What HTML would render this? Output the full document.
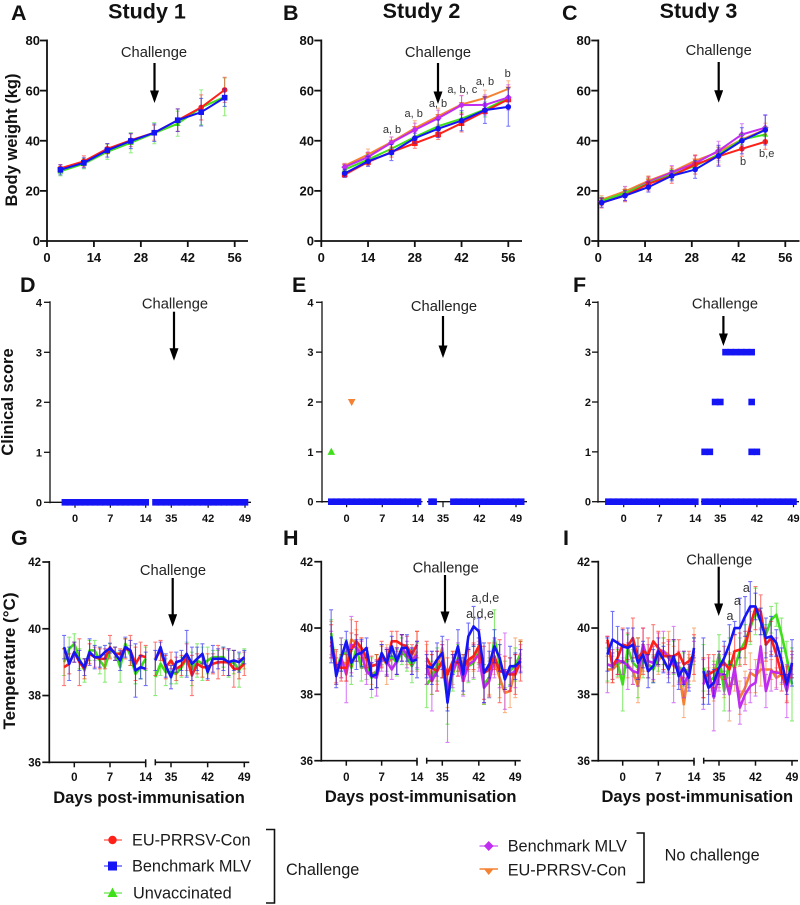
<!DOCTYPE html>
<html lang="en">
<head>
<meta charset="utf-8">
<title>Study charts</title>
<style>
html,body{margin:0;padding:0;background:#fff}
svg{display:block}
text{font-family:"Liberation Sans",sans-serif;fill:#111}
.b{font-weight:bold}
.ch{font-size:14.7px;text-anchor:middle;fill:#222}
.ttl{font-size:21.5px;font-weight:bold;text-anchor:middle}
.pl{font-size:21.5px;font-weight:bold}
.ax{font-size:16.5px;font-weight:bold;text-anchor:middle}
.an{font-size:11px;text-anchor:middle;fill:#333}
.an2{font-size:12.5px;text-anchor:middle;fill:#333}
.lg{font-size:16.3px;fill:#1a1a1a}
</style>
</head>
<body>
<svg id="fig" xmlns="http://www.w3.org/2000/svg" width="800" height="905" viewBox="0 0 800 905">
<rect width="800" height="905" fill="#fff"/>
<defs>
<marker id="ah" markerWidth="12.5" markerHeight="9" refX="9.5" refY="4.5" orient="auto" markerUnits="userSpaceOnUse" viewBox="0 0 12.5 9"><path d="M0 0L12.5 4.5L0 9Z" fill="#000"/></marker>
</defs>

<text class="ttl" x="147" y="18.5">Study 1</text>
<text class="ttl" x="421.5" y="18">Study 2</text>
<text class="ttl" x="698.5" y="18">Study 3</text>

<text class="pl" x="11" y="20">A</text>
<text class="pl" x="283" y="20">B</text>
<text class="pl" x="562" y="20">C</text>
<text class="pl" x="20" y="292">D</text>
<text class="pl" x="292" y="292">E</text>
<text class="pl" x="573" y="292">F</text>
<text class="pl" x="11" y="545">G</text>
<text class="pl" x="283" y="545">H</text>
<text class="pl" x="563" y="545">I</text>

<text class="ax" transform="translate(17,140) rotate(-90)">Body weight (kg)</text>
<text class="ax" transform="translate(13,402) rotate(-90)">Clinical score</text>
<text class="ax" transform="translate(15,661) rotate(-90)" textLength="137" lengthAdjust="spacingAndGlyphs">Temperature (°C)</text>
<text class="ax" x="149" y="803">Days post-immunisation</text>
<text class="ax" x="420.7" y="802">Days post-immunisation</text>
<text class="ax" x="697.3" y="802">Days post-immunisation</text>

<g id="charts"></g>

<g stroke="#000" stroke-width="2.2" fill="none">
<line x1="154.5" y1="63" x2="154.5" y2="100" marker-end="url(#ah)"/>
<line x1="438" y1="63" x2="438" y2="101" marker-end="url(#ah)"/>
<line x1="718.7" y1="62" x2="718.7" y2="99.7" marker-end="url(#ah)"/>
<line x1="174" y1="311.7" x2="174" y2="357.7" marker-end="url(#ah)"/>
<line x1="443" y1="316" x2="443" y2="355" marker-end="url(#ah)"/>
<line x1="723.4" y1="316" x2="723.4" y2="343" marker-end="url(#ah)"/>
<line x1="172.7" y1="578" x2="172.7" y2="623.7" marker-end="url(#ah)"/>
<line x1="445" y1="575" x2="445" y2="621" marker-end="url(#ah)"/>
<line x1="718.7" y1="566.7" x2="718.7" y2="613" marker-end="url(#ah)"/>
</g>
<text class="ch" x="154" y="57">Challenge</text>
<text class="ch" x="438" y="57">Challenge</text>
<text class="ch" x="718.7" y="55">Challenge</text>
<text class="ch" x="175" y="308.3">Challenge</text>
<text class="ch" x="444" y="311">Challenge</text>
<text class="ch" x="725" y="308.3">Challenge</text>
<text class="ch" x="173" y="575">Challenge</text>
<text class="ch" x="445.7" y="572.7">Challenge</text>
<text class="ch" x="719.3" y="564.7">Challenge</text>

<g>
<text class="an" x="392" y="133">a, b</text>
<text class="an" x="413.7" y="117">a, b</text>
<text class="an" x="438" y="107">a, b</text>
<text class="an" x="462.3" y="93">a, b, c</text>
<text class="an" x="485" y="85">a, b</text>
<text class="an" x="507.7" y="77">b</text>
<text class="an" x="743" y="165">b</text>
<text class="an" x="766.7" y="157">b,e</text>
<text class="an2" x="485.3" y="602">a,d,e</text>
<text class="an2" x="480" y="618">a,d,e</text>
<text class="an2" x="730" y="620">a</text>
<text class="an2" x="737.3" y="605">a</text>
<text class="an2" x="746.3" y="592">a</text>
</g>

<g>
<g>
<line x1="104" x2="122" y1="840" y2="840" stroke="#ff2a20" stroke-width="2" opacity=".5"/>
<circle cx="112.5" cy="840" r="4.2" fill="#ff2018"/>
<text class="lg" x="132" y="845.5">EU-PRRSV-Con</text>
</g>
<g>
<line x1="104" x2="122" y1="866" y2="866" stroke="#1a1aff" stroke-width="2" opacity=".5"/>
<rect x="108" y="861.5" width="9" height="9" fill="#1414f5"/>
<text class="lg" x="132" y="871.5">Benchmark MLV</text>
</g>
<g>
<line x1="104" x2="122" y1="893" y2="893" stroke="#40e020" stroke-width="2" opacity=".5"/>
<path d="M112.5 887.5L117.5 897H107.5Z" fill="#3fe01a"/>
<text class="lg" x="133" y="898.5">Unvaccinated</text>
</g>
<g>
<line x1="479.5" x2="498" y1="846" y2="846" stroke="#c030f0" stroke-width="2" opacity=".5"/>
<path d="M488.7 841L493.5 846L488.7 851L484 846Z" fill="#c02cf0"/>
<text class="lg" x="507.7" y="851.5">Benchmark MLV</text>
</g>
<g>
<line x1="479.5" x2="498" y1="869" y2="869" stroke="#f58233" stroke-width="1.5"/>
<path d="M484 869H493.5L488.7 875Z" fill="#f58233"/>
<text class="lg" x="507.7" y="875.5">EU-PRRSV-Con</text>
</g>
<path d="M266 829.5H274.5V903H266" fill="none" stroke="#111" stroke-width="1.6"/>
<text class="lg" x="286" y="875">Challenge</text>
<path d="M636.5 833H644V882.5H636.5" fill="none" stroke="#111" stroke-width="1.6"/>
<text class="lg" x="664.6" y="860.7">No challenge</text>
</g>
</svg>

<script>
/* ---------- Tick labels ---------- */
const weightTicks=[0,20,40,60,80];
const weightDayTicks=[0,14,28,42,56];
const clinicalTicks=[0,1,2,3,4];
const tempTicks=[36,38,40,42];
const brokenDayTicks=[0,7,14,35,42,49];

/* ---------- Body weight ---------- */
const daysA=[4,11,18,25,32,39,46,53];
const weightA_green=[27.8,30.8,35.6,39.2,43,46.8,53.3,57.5];
const weightA_greenErr=[1.8,2,3,4,4.2,5,7,7.5];
const weightA_red=[29,31.8,36.8,40.2,43.2,48.2,53.3,60.3];
const weightA_redErr=[1.5,2.2,2,2.5,3,4.5,5,5];
const weightA_blue=[28.4,31.2,36.2,39.9,43.2,48.2,51.4,57.2];
const weightA_blueErr=[2,2,2.7,3,3.5,4.5,5.5,3.5];

const daysB=[7,14,21,28,35,42,49,56];
const weightB_orange=[30,34.5,39.5,45,49.8,54.5,57,60.7];
const weightB_orangeErr=[1,2.2,2,3,3.2,3.6,3.2,3.2];
const weightB_purple=[29.5,33.5,39.2,44.3,49,54.2,54.3,57.3];
const weightB_purpleErr=[1.2,2,2.3,2.7,3.2,3.8,4,5];
const weightB_green=[28.5,32.5,36.8,41.5,45.8,48.8,52.5,57];
const weightB_greenErr=[1.6,2,2.5,2.5,2.5,2.5,3,4];
const weightB_red=[26.5,31.5,35.5,39,42.5,47,51.8,56.5];
const weightB_redErr=[1,1.5,2,2,2,3.5,1,1];
const weightB_blue=[27,31.8,35.3,41,44.8,48,52.2,53.5];
const weightB_blueErr=[1.6,2,3.2,2,3.5,4,5.3,7.7];

const daysC=[1,8,15,22,29,36,43,50];
const weightC_orange=[16.5,19.8,24,27.5,32,35.5,40.5,44.5];
const weightC_orangeErr=[1.6,1.8,2,2.2,2.3,2.5,2.5,2.5];
const weightC_purple=[15.8,19,23.5,27.3,31,36,42.5,45.2];
const weightC_purpleErr=[1.5,2.8,2,2.8,3,3.8,4.3,5];
const weightC_green=[16,19.2,23,26.5,30,34.5,40.5,42.5];
const weightC_greenErr=[1.5,1.5,2,2,2,3,2,3];
const weightC_red=[15.2,18.2,22.8,26,30.5,33.8,36.8,39.6];
const weightC_redErr=[2,2.5,2.8,3,3.8,3.5,3,3];
const weightC_blue=[15.3,18.1,21.5,26,28.5,34,40,44.3];
const weightC_blueErr=[1.8,2,2,2,3.5,4.2,5.2,6];

/* ---------- Clinical score (blue blocks + single animals) ---------- */
const clinicalD_days=[-2,-1,0,1,2,3,4,5,6,7,8,9,10,11,12,13,14,32,33,34,35,36,37,38,39,40,41,42,43,44,45,46,47,48,49];
const clinicalD_scores=[0,0,0,0,0,0,0,0,0,0,0,0,0,0,0,0,0,0,0,0,0,0,0,0,0,0,0,0,0,0,0,0,0,0,0];
const clinicalE_days=[-3,-2,-1,0,1,2,3,4,5,6,7,8,9,10,11,12,13,14,32.8,33.2,37,38,39,40,41,42,43,44,45,46,47,48,49,50];
const clinicalE_scores=[0,0,0,0,0,0,0,0,0,0,0,0,0,0,0,0,0,0,0,0,0,0,0,0,0,0,0,0,0,0,0,0,0,0];
const clinicalF_days=[-3,-2,-1,0,1,2,3,4,5,6,7,8,9,10,11,12,13,14,32,33,34,35,36,37,38,39,40,41,42,43,44,45,46,47,48,49,36,37,38,39,40,41,34,35,41,32,33,41,42];
const clinicalF_scores=[0,0,0,0,0,0,0,0,0,0,0,0,0,0,0,0,0,0,0,0,0,0,0,0,0,0,0,0,0,0,0,0,0,0,0,0,3,3,3,3,3,3,2,2,2,1,1,1,1];
const clinicalE_greenDays=[-3];
const clinicalE_greenScores=[1];
const clinicalE_orangeDays=[1];
const clinicalE_orangeScores=[2];

/* ---------- Temperature: study 1 ---------- */
const daysG=[-2,-1,0,1,2,3,4,5,6,7,8,9,10,11,12,13,14,32,33,34,35,36,37,38,39,40,41,42,43,44,45,46,47,48,49];
const tempG_green=[39,39.4,39.55,39.1,38.75,39.35,39.35,39.05,38.85,39.35,39.3,38.85,39.55,39.2,38.65,38.85,39.1,38.55,38.95,38.7,38.7,38.65,38.85,39.1,38.8,39.05,38.95,39.05,39.15,39.15,39.15,38.95,39,38.75,39.1];
const tempG_greenErr=[.4,.35,.3,.3,.35,.3,.3,.4,.45,.2,.15,.45,.15,.3,.3,.35,.35,.55,.35,.4,.35,.3,.3,.5,.5,.5,.5,.4,.2,.2,.3,.4,.35,.5,.3];
const tempG_red=[38.85,38.95,39.3,39,38.8,39.25,39.15,39.1,39.1,39.45,39.25,39.25,39.4,39.35,38.95,39.2,39.15,39.1,39.35,38.85,39.05,38.8,38.9,39.15,38.6,38.95,38.85,38.85,38.95,39,39,39,38.8,38.8,38.95];
const tempG_redErr=[.55,.3,.3,.7,.3,.3,.3,.3,.3,.35,.2,.15,.3,.45,.5,.4,.35,.5,.3,.35,.25,.35,.3,.4,.6,.3,.3,.4,.3,.5,.4,.4,.55,.3,.35];
const tempG_blue=[39.45,38.95,39.3,39.05,38.85,39.3,39.15,39.15,39.3,39.42,39.25,39.05,39.45,39.35,38.75,38.85,38.8,39.05,39.45,38.9,38.55,39,39.05,39.25,38.95,39.1,39.25,38.7,39.1,39.1,39.1,39,39.05,39,39.15];
const tempG_blueErr=[.35,.5,.3,.3,.25,.4,.35,.3,.2,.15,.2,.3,.3,.3,.8,.35,.5,.3,.15,.35,.35,.3,.3,.7,.5,.35,.3,.2,.4,.3,.35,.4,.3,.3,.2];

/* ---------- Temperature: study 2 ---------- */
const daysH=[-3,-2,-1,0,1,2,3,4,5,6,7,8,9,10,11,12,13,14,32,33,34,35,36,37,38,39,40,41,42,43,44,45,46,47,48,49,50];
const tempH_orange=[39.7,38.8,39,38.9,39.65,39.55,39.3,39,38.6,38.7,39.15,38.9,39.1,39,39.4,39.2,39,39.3,38.9,38.6,38.8,39.4,38.1,38.8,39,38.5,39,39.1,39.2,38.3,38.5,39,38.5,38.05,38.1,38.8,39.25];
const tempH_orangeErr=[.5,.5,.5,.5,.6,.4,.4,.4,.3,.5,.3,.6,.3,.4,.4,.3,.3,.6,.6,.6,.5,.2,.5,.5,.3,.5,.3,.4,.4,.6,.5,.4,.6,.6,.5,.9,.4];
const tempH_green=[39.85,38.7,39.2,39.25,38.8,39.4,38.8,38.85,38.5,38.7,39.2,39,39.15,38.95,39.3,39.1,38.85,39.15,38.3,38.5,38.9,38.9,37.85,38.6,39.1,38.6,38.85,38.95,39.3,38.3,38.5,39.7,38.9,38.6,38.7,38.9,39.2];
const tempH_greenErr=[.4,.4,.5,.4,.5,.4,.4,.4,.6,.5,.3,.3,.3,.4,.4,.4,.5,.4,.7,.5,.5,.4,.75,.5,.4,.6,.5,.5,.4,.6,.6,.85,.6,.4,.4,.5,.4];
const tempH_purple=[39.5,38.7,39.1,38.6,39.5,39.4,39.2,38.7,38.55,38.5,39.1,39,38.75,39,39.4,39.2,39,39.2,38.8,38.4,38.7,39,38.1,38.7,39.05,38.4,38.9,39,39.2,38.2,38.4,39.1,38.7,38.7,38.6,38.7,39.1];
const tempH_purpleErr=[.4,.4,.6,.85,.85,.4,.4,.4,.4,.55,.4,.4,.3,.4,.4,.4,.4,.4,.5,.9,.6,.5,1.55,.5,.5,.45,.5,.5,.5,.45,.5,.6,.5,1.15,.5,.5,.4];
const tempH_red=[39.6,38.85,38.8,38.8,39.35,39.6,39.4,39.1,38.85,38.9,39.2,38.95,39.6,39.6,39.5,39.45,39.2,39.5,39.1,38.8,38.7,39,38.6,39,38.95,38.8,39.05,39.15,39.45,38.65,38.75,39.15,38.7,38.65,38.6,38.6,39];
const tempH_redErr=[.5,.5,.4,.4,.5,.6,.3,.3,.3,.3,.4,.4,.3,.3,.3,.3,.3,.4,.5,.4,.6,.5,.5,.3,.4,.4,.3,.4,.5,.8,.8,.4,.95,.5,.5,.6,.6];
const tempH_blue=[39.75,38.55,39.1,39.6,38.95,39.2,39.25,39.4,38.55,38.6,39.25,38.95,39.45,39,39.4,39.4,39,39.05,38.85,38.8,39.05,39.25,37.75,38.9,39.45,38.6,39.75,40.05,39.9,38.65,38.9,39.45,39.1,38.45,38.85,38.85,39];
const tempH_blueErr=[.8,.35,.4,.3,.4,.45,.4,.3,.4,.4,.25,.4,.3,.4,.4,.4,.4,.55,.35,.5,.5,.5,.25,.3,.5,.5,.4,.6,.4,.9,.4,.5,.4,.3,.6,.4,.35];

/* ---------- Temperature: study 3 ---------- */
const daysI=[-3,-2,-1,0,1,2,3,4,5,6,7,8,9,10,11,12,13,14,32,33,34,35,36,37,38,39,40,41,42,43,44,45,46,47,48,49];
const tempI_orange=[38.75,38.75,38.9,39,38.9,38.7,38.25,39.1,38.9,38.8,39,39.3,39.2,38.85,38.75,37.7,38.8,39.2,38.5,38.4,38.3,38.7,38.3,38.2,38.6,37.9,38.2,38.65,38.55,38.75,38.75,38.75,38.5,38.6,38.3,38.8];
const tempI_orangeErr=[.4,.4,.4,.5,.4,.4,.5,.4,.4,.4,.4,.4,.7,.6,.4,.4,.4,.8,.6,.3,.5,.5,.4,1,.5,.5,.5,.6,.5,.5,.5,.3,.3,.3,.5,.3];
const tempI_green=[38.9,38.85,38.95,38.3,39.4,38.95,38.8,39,38.9,38.75,39.1,39.3,39.1,39.1,38.8,38.75,38.7,39.3,38.8,38.4,38.5,39.2,38.1,39,38.8,39.3,39.6,40,40.5,40.2,39.8,40.25,40.4,39.8,39.1,38.3];
const tempI_greenErr=[.5,.4,.4,.8,.4,.4,.9,.5,.4,.4,.4,.4,.4,.5,.4,.5,.4,.4,.7,.4,.5,.6,.6,.7,.5,.4,.5,.5,.7,.4,.3,.4,.35,.5,.5,1.1];
const tempI_purple=[38.9,38.85,39,39,38.85,38.7,38.65,39.5,39,38.95,39.35,39.3,39.1,38.9,38.8,38.3,38.6,39.3,38.3,38.7,37.9,38.6,38.6,38,38.8,37.6,38,38.25,38.35,39.45,38.1,38.7,38.65,38.65,38.1,38.9];
const tempI_purpleErr=[.85,.4,.4,.4,.7,.4,.4,.5,.5,.5,.5,.6,.5,1.15,.5,.4,.4,.3,.75,.4,1,.5,.6,.5,.5,.5,.5,.5,.4,.5,.5,.6,.5,.3,.8,.3];
const tempI_red=[39.65,38.85,39.1,39.5,39.45,39.7,39.1,39.3,39.2,39.6,39.4,39.15,39.15,39.15,39.25,38.9,39,39.2,38.5,38.6,38.7,38.8,38.95,38.75,39.3,39.35,39.4,40.1,40.6,40.5,39.5,39.7,39.2,38.6,38.3,38.9];
const tempI_redErr=[.1,.5,.5,.5,.4,.6,.6,.7,.5,.5,.5,.4,.5,.5,.4,.4,.3,.6,.6,.6,.5,.5,.5,.5,.5,.5,.5,.5,.65,.5,.5,.5,.5,.5,.55,.4];
const tempI_blue=[39.2,39.65,39.55,39.45,39.4,39.5,38.95,39.2,38.7,38.85,39.3,39.05,38.75,39.15,38.55,38.8,38.5,39.4,38.7,38.2,38.35,38.8,39.1,39.5,40,40,40.35,40.65,40.65,40.2,39.7,39.75,39.55,39,38.3,38.95];
const tempI_blueErr=[.5,.85,.5,.5,.6,.5,.5,.4,.5,.5,.4,.4,.4,.5,.4,.5,.4,.3,1,.5,.4,.5,.5,.6,.2,.9,.6,.75,.4,.4,.6,.6,.4,.4,.3,.7];

const COL={red:'#ff2018',blue:'#1414f5',green:'#3fe01a',purple:'#c02cf0',orange:'#f58233'};
const NS='http://www.w3.org/2000/svg';
const root=document.getElementById('charts');

function mk(tag,attrs,parent){
  const e=document.createElementNS(NS,tag);
  for(const k in attrs)e.setAttribute(k,attrs[k]);
  parent.appendChild(e);
  return e;
}
function fmtPoints(pts){return pts.map(p=>p[0].toFixed(2)+','+p[1].toFixed(2)).join(' ');}

function drawMarker(shape,cx,cy,s,color,parent){
  let m;
  if(shape==='circle')m=mk('circle',{cx:cx,cy:cy,r:s,fill:color},parent);
  else if(shape==='square')m=mk('rect',{x:cx-s,y:cy-s,width:2*s,height:2*s,fill:color},parent);
  else if(shape==='up')m=mk('path',{d:`M${cx} ${cy-s*1.1}L${cx+s} ${cy+s*.8}H${cx-s}Z`,fill:color},parent);
  else if(shape==='down')m=mk('path',{d:`M${cx} ${cy+s*1.1}L${cx+s} ${cy-s*.8}H${cx-s}Z`,fill:color},parent);
  else m=mk('path',{d:`M${cx} ${cy-s*1.2}L${cx+s*1.2} ${cy}L${cx} ${cy+s*1.2}L${cx-s*1.2} ${cy}Z`,fill:color},parent);
  
  
}

function yAxis(g,p,ticks,fs){
  const axis=mk('line',{x1:p.ax,x2:p.ax,y1:p.yTop-1,y2:p.yBot+1,stroke:'#111','stroke-width':p.sw},g);
  
  
  ticks.forEach(t=>{
    const y=p.y(t);
    const tk=mk('line',{x1:p.ax-p.tl,x2:p.ax,y1:y,y2:y,stroke:'#111','stroke-width':p.sw},g);
    
    
    const lb=mk('text',{x:p.lblX,y:y+fs*.36,'text-anchor':'end','font-size':fs,'font-weight':'bold'},g);
    lb.textContent=t;
    
    
  });
}

function series(g,name,days,vals,errs,xf,yf,opt){
  const sg=mk('g',{},g);
  
  
  const color=COL[opt.color];
  vals.forEach((v,i)=>{
    const x=xf(days[i]);
    const e=mk('path',{d:`M${x} ${yf(v-errs[i])}V${yf(v+errs[i])}M${x-opt.cap} ${yf(v-errs[i])}h${2*opt.cap}M${x-opt.cap} ${yf(v+errs[i])}h${2*opt.cap}`,fill:'none',stroke:color,'stroke-width':opt.ew,opacity:opt.eo},sg);
    
    
  });
  const segs=[[]];
  days.forEach((d,i)=>{
    if(opt.broken&&i>0&&days[i-1]<=14&&d>14)segs.push([]);
    segs[segs.length-1].push([xf(d),yf(vals[i])]);
  });
  segs.forEach(pts=>{
    const l=mk('polyline',{points:fmtPoints(pts),fill:'none',stroke:color,'stroke-width':opt.lw,'stroke-linejoin':'round'},sg);
    
    
  });
  if(opt.shape)vals.forEach((v,i)=>drawMarker(opt.shape,xf(days[i]),yf(v),opt.ms,color,sg));
}

/* ---------- Row 1: body weight ---------- */
const weightPanels=[
 {id:'a',ax:47,x56:234.7,xEnd:248,lblX:40,days:daysA,s:[
  ['green','up',weightA_green,weightA_greenErr],['red','circle',weightA_red,weightA_redErr],['blue','square',weightA_blue,weightA_blueErr]]},
 {id:'b',ax:321.3,x56:508.3,xEnd:522,lblX:314,days:daysB,s:[
  ['orange','down',weightB_orange,weightB_orangeErr],['green','up',weightB_green,weightB_greenErr],['red','square',weightB_red,weightB_redErr],['purple','diamond',weightB_purple,weightB_purpleErr],['blue','circle',weightB_blue,weightB_blueErr]]},
 {id:'c',ax:598.3,x56:785.3,xEnd:799.5,lblX:591,days:daysC,s:[
  ['orange','down',weightC_orange,weightC_orangeErr],['purple','diamond',weightC_purple,weightC_purpleErr],['green','up',weightC_green,weightC_greenErr],['red','circle',weightC_red,weightC_redErr],['blue','circle',weightC_blue,weightC_blueErr]]}
];
weightPanels.forEach(P=>{
  const g=mk('g',{},root);
  
  
  const yf=v=>241-v*(241-40.5)/80;
  const xf=d=>P.ax+d*(P.x56-P.ax)/56;
  yAxis(g,{ax:P.ax,yTop:40.5,yBot:241,y:yf,tl:7,sw:1.8,lblX:P.lblX},weightTicks,13);
  const xl=mk('line',{x1:P.ax,x2:P.xEnd,y1:241,y2:241,stroke:'#111','stroke-width':1.8},g);
  
  
  weightDayTicks.forEach(t=>{
    const tk=mk('line',{x1:xf(t),x2:xf(t),y1:241,y2:247,stroke:'#111','stroke-width':1.8},g);
    
    
    const lb=mk('text',{x:xf(t),y:262,'text-anchor':'middle','font-size':13,'font-weight':'bold'},g);
    lb.textContent=t;
    
    
  });
  P.s.forEach(s=>series(g,s[0],P.days,s[2],s[3],xf,yf,{color:s[0],shape:s[1],ms:2.8,lw:2,ew:1.1,eo:.55,cap:2,broken:false}));
});

/* ---------- Broken x axis shared by rows 2 and 3 ---------- */
function brokenX(P){
  const sl=(P.x14-P.x0)/14,sr=(P.x49-P.x35)/14;
  return d=>d<=14?P.x0+d*sl:P.x35+(d-35)*sr;
}

/* ---------- Row 2: clinical score ---------- */
const clinicalPanels=[
 {id:'d',ax:50,x0:75,x14:145.7,x35:171.3,x49:245,gapL:148,gapR:153,xEnd:251,lblX:42,yBot:502.3,days:clinicalD_days,scores:clinicalD_scores},
 {id:'e',ax:322,x0:346.6,x14:418,x35:443,x49:516,gapL:422.5,gapR:427,xEnd:527,lblX:313.5,yBot:501.7,days:clinicalE_days,scores:clinicalE_scores},
 {id:'f',ax:598,x0:623.7,x14:695.3,x35:720.3,x49:793.5,gapL:698,gapR:701,xEnd:799,lblX:591,yBot:501.7,days:clinicalF_days,scores:clinicalF_scores}
];
clinicalPanels.forEach(P=>{
  const g=mk('g',{},root);
  
  
  const yf=v=>P.yBot-v*(P.yBot-302.3)/4;
  const xf=brokenX(P);
  yAxis(g,{ax:P.ax,yTop:302.3,yBot:P.yBot,y:yf,tl:6,sw:1.3,lblX:P.lblX},clinicalTicks,11);
  [[P.ax,P.gapL],[P.gapR,P.xEnd]].forEach(r=>{
    const xl=mk('line',{x1:r[0],x2:r[1],y1:P.yBot,y2:P.yBot,stroke:'#111','stroke-width':1.3},g);
    
    
  });
  brokenDayTicks.forEach(t=>{
    const tk=mk('line',{x1:xf(t),x2:xf(t),y1:P.yBot,y2:P.yBot+5.5,stroke:'#111','stroke-width':1.2},g);
    
    
    const lb=mk('text',{x:xf(t),y:522,'text-anchor':'middle','font-size':11,'font-weight':'bold'},g);
    lb.textContent=t;
    
    
  });
  const bg=mk('g',{},g);
  
  
  P.days.forEach((d,i)=>drawMarker('square',xf(d),yf(P.scores[i]),3.3,COL.blue,bg));
  if(P.id==='e'){
    clinicalE_greenDays.forEach((d,i)=>drawMarker('up',xf(d),yf(clinicalE_greenScores[i]),3.8,COL.green,g));
    clinicalE_orangeDays.forEach((d,i)=>drawMarker('down',xf(d),yf(clinicalE_orangeScores[i]),3.8,COL.orange,g));
  }
});

/* ---------- Row 3: temperature ---------- */
const tempPanels=[
 {id:'g',ax:49.3,x0:74.3,x14:145.7,x35:171,x49:244.3,segR:155.3,xEnd:249.3,lblX:41,yTop:562,yBot:762.3,days:daysG,s:[
  ['green',tempG_green,tempG_greenErr],['red',tempG_red,tempG_redErr],['blue',tempG_blue,tempG_blueErr]]},
 {id:'h',ax:321.3,x0:346.3,x14:417,x35:442.3,x49:515.3,segR:426.7,xEnd:520.7,lblX:313,yTop:561.7,yBot:760.7,days:daysH,s:[
  ['orange',tempH_orange,tempH_orangeErr],['green',tempH_green,tempH_greenErr],['purple',tempH_purple,tempH_purpleErr],['red',tempH_red,tempH_redErr],['blue',tempH_blue,tempH_blueErr]]},
 {id:'i',ax:598.3,x0:622.7,x14:694,x35:719,x49:792,segR:703.7,xEnd:798,lblX:590,yTop:561.7,yBot:760.7,days:daysI,s:[
  ['orange',tempI_orange,tempI_orangeErr],['green',tempI_green,tempI_greenErr],['purple',tempI_purple,tempI_purpleErr],['red',tempI_red,tempI_redErr],['blue',tempI_blue,tempI_blueErr]]}
];
tempPanels.forEach(P=>{
  const g=mk('g',{},root);
  
  
  const yf=v=>P.yBot-(v-36)*(P.yBot-P.yTop)/6;
  const xf=brokenX(P);
  yAxis(g,{ax:P.ax,yTop:P.yTop,yBot:P.yBot,y:yf,tl:7,sw:1.7,lblX:P.lblX},tempTicks,11.5);
  [[P.ax,P.x14],[P.segR,P.xEnd]].forEach(r=>{
    const xl=mk('line',{x1:r[0],x2:r[1],y1:P.yBot,y2:P.yBot,stroke:'#111','stroke-width':1.7},g);
    
    
  });
  [P.x14,P.segR].forEach(x=>{
    const br=mk('line',{x1:x,x2:x,y1:P.yBot-3,y2:P.yBot+3,stroke:'#111','stroke-width':1.5},g);
    
    
  });
  brokenDayTicks.forEach(t=>{
    const tk=mk('line',{x1:xf(t),x2:xf(t),y1:P.yBot,y2:P.yBot+5,stroke:'#111','stroke-width':1.5},g);
    
    
    const lb=mk('text',{x:xf(t),y:781,'text-anchor':'middle','font-size':11.5,'font-weight':'bold'},g);
    lb.textContent=t;
    
    
  });
  P.s.forEach(s=>series(g,s[0],P.days,s[1],s[2],xf,yf,{color:s[0],shape:null,lw:2.6,ew:1.1,eo:.6,cap:2,broken:true}));
});
</script>
</body>
</html>
